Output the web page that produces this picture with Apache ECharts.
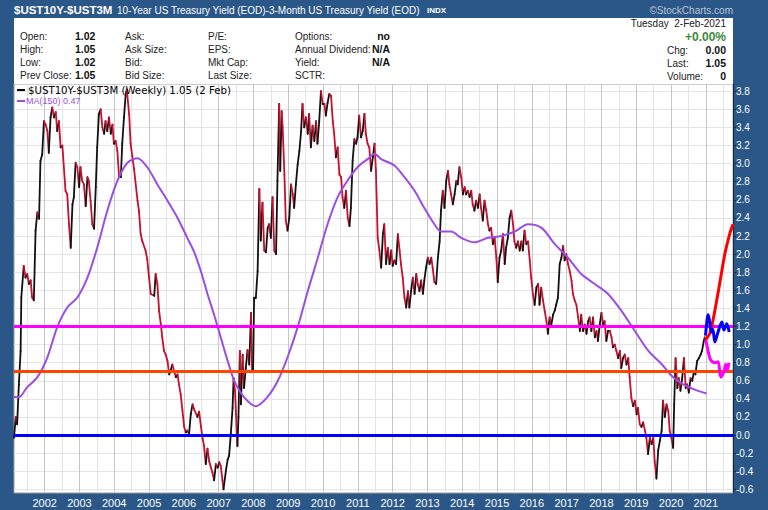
<!DOCTYPE html>
<html><head><meta charset="utf-8">
<script src="https://cdn.jsdelivr.net/npm/echarts@6/dist/echarts.min.js"></script>
<style>html,body{margin:0;padding:0;background:#2a5788;}#c{width:768px;height:510px;}</style>
</head><body><div id="c"></div>
<script>
// ---- data (decimal year, value) ----
const spreadWeekly = [
[2001.12,-0.03],[2001.17,0.20],[2001.21,0.12],[2001.26,0.56],[2001.31,0.93],[2001.33,1.52],[2001.40,1.87],[2001.45,1.74],[2001.50,1.78],[2001.55,1.67],[2001.60,1.71],[2001.64,1.52],[2001.69,1.49],[2001.74,2.26],[2001.79,2.46],[2001.84,2.39],[2001.88,3.03],[2001.93,3.10],[2001.98,3.47],[2002.03,3.43],[2002.08,3.36],[2002.12,3.12],[2002.17,3.51],[2002.22,3.62],[2002.27,3.51],[2002.32,3.57],[2002.36,3.36],[2002.41,3.47],[2002.46,3.18],[2002.51,3.20],[2002.60,2.70],[2002.65,2.66],[2002.70,2.33],[2002.75,2.07],[2002.80,2.55],[2002.84,2.63],[2002.89,3.01],[2002.94,2.96],[2002.99,2.74],[2003.03,2.96],[2003.08,2.81],[2003.13,2.77],[2003.18,2.53],[2003.23,2.85],[2003.27,2.81],[2003.32,2.59],[2003.37,2.33],[2003.42,2.28],[2003.47,2.74],[2003.51,3.18],[2003.56,3.55],[2003.61,3.60],[2003.66,3.40],[2003.71,3.33],[2003.75,3.47],[2003.80,3.36],[2003.85,3.51],[2003.90,3.33],[2003.95,3.43],[2003.99,3.22],[2004.04,3.25],[2004.09,3.14],[2004.14,2.85],[2004.19,2.85],[2004.23,3.22],[2004.28,3.51],[2004.33,3.77],[2004.36,3.82],[2004.43,3.54],[2004.47,3.22],[2004.52,3.08],[2004.57,2.94],[2004.67,2.59],[2004.71,2.48],[2004.76,2.22],[2004.81,2.14],[2004.90,2.04],[2004.95,1.94],[2005.00,1.74],[2005.05,1.56],[2005.15,1.54],[2005.19,1.78],[2005.24,1.67],[2005.29,1.37],[2005.34,1.22],[2005.38,1.08],[2005.43,0.93],[2005.48,0.89],[2005.53,0.82],[2005.58,0.67],[2005.62,0.71],[2005.67,0.78],[2005.72,0.71],[2005.77,0.64],[2005.82,0.67],[2005.86,0.56],[2005.91,0.45],[2005.96,0.27],[2006.01,0.09],[2006.06,0.03],[2006.10,0.05],[2006.15,0.01],[2006.20,0.23],[2006.25,0.34],[2006.30,0.28],
[2006.39,0.20],[2006.44,0.26],[2006.49,0.10],[2006.54,-0.04],[2006.58,-0.12],[2006.63,-0.32],[2006.68,-0.15],[2006.73,-0.29],[2006.78,-0.36],[2006.82,-0.41],[2006.87,-0.50],[2006.92,-0.32],[2006.97,-0.36],[2007.02,-0.30],[2007.06,-0.34],[2007.11,-0.50],[2007.14,-0.60],[2007.21,-0.39],[2007.26,-0.27],[2007.30,-0.23],[2007.35,0.01],[2007.40,0.30],[2007.43,0.63],[2007.47,0.49],[2007.50,0.23],[2007.52,0.01],[2007.54,-0.12],[2007.57,0.20],[2007.61,0.93],[2007.64,0.34],[2007.69,0.89],[2007.73,0.52],[2007.78,0.74],[2007.83,0.94],[2007.88,0.78],[2007.93,1.35],[2007.96,0.71],[2007.99,0.71],[2008.02,1.52],[2008.07,1.52],[2008.12,1.81],[2008.17,2.72],[2008.21,2.15],[2008.26,2.57],[2008.31,2.04],[2008.36,2.02],[2008.41,2.29],[2008.45,2.33],[2008.50,2.18],[2008.55,2.63],[2008.60,2.04],[2008.65,2.00],[2008.69,2.81],[2008.74,3.66],[2008.77,2.92],[2008.81,3.58],[2008.84,3.40],[2008.89,2.88],[2008.93,2.37],[2008.98,2.26],[2009.03,2.40],[2009.08,2.77],[2009.13,2.66],[2009.17,2.51],[2009.22,2.77],[2009.27,2.99],[2009.32,3.14],[2009.37,3.36],[2009.41,3.66],[2009.46,3.40],[2009.51,3.51],[2009.56,3.33],[2009.60,3.55],[2009.65,3.18],[2009.70,3.42],[2009.75,3.25],[2009.80,3.47],[2009.84,3.22],[2009.89,3.47],[2009.94,3.80],[2009.99,3.66],[2010.04,3.66],[2010.08,3.53],[2010.13,3.67],[2010.18,3.77],[2010.23,3.75],[2010.28,3.47],[2010.32,3.33],[2010.37,3.07],[2010.42,3.18],[2010.47,2.88],[2010.52,2.85],[2010.56,2.63],[2010.61,2.51],[2010.66,2.70],[2010.71,2.40],[2010.76,2.31],[2010.80,2.51],[2010.85,3.03],[2010.90,3.27],[2010.95,3.22],[2010.99,3.29],[2011.04,3.53],[2011.09,3.29],[2011.14,3.36],[2011.19,3.55],[2011.23,3.33],[2011.28,3.22],[2011.33,3.18],[2011.38,2.92],[2011.43,3.07],[2011.48,3.22],
[2011.52,2.92],[2011.57,2.18],[2011.62,2.04],[2011.67,1.85],[2011.72,2.22],[2011.76,2.33],[2011.81,1.89],[2011.86,2.07],[2011.91,1.89],[2011.96,2.04],[2012.00,1.87],[2012.05,1.93],[2012.10,1.89],[2012.15,2.22],[2012.20,2.04],[2012.24,1.89],[2012.29,1.74],[2012.34,1.52],[2012.39,1.41],[2012.44,1.59],[2012.48,1.41],[2012.53,1.59],[2012.58,1.74],[2012.63,1.56],[2012.68,1.78],[2012.72,1.67],[2012.77,1.59],[2012.82,1.71],[2012.87,1.56],[2012.91,1.71],[2012.96,1.85],[2013.01,1.96],[2013.06,1.89],[2013.11,1.96],[2013.15,1.85],[2013.20,1.69],[2013.25,1.67],[2013.30,1.96],[2013.35,2.14],[2013.39,2.48],[2013.44,2.70],[2013.49,2.51],[2013.54,2.81],[2013.59,2.92],[2013.63,2.77],[2013.68,2.66],[2013.73,2.55],[2013.78,2.66],[2013.83,2.81],[2013.87,2.77],[2013.92,2.96],[2013.97,2.85],[2014.02,2.66],[2014.07,2.74],[2014.11,2.66],[2014.16,2.70],[2014.21,2.63],[2014.26,2.70],[2014.30,2.55],[2014.35,2.48],[2014.40,2.59],[2014.45,2.51],[2014.50,2.66],[2014.54,2.51],[2014.59,2.37],[2014.64,2.59],[2014.69,2.48],[2014.74,2.33],[2014.78,2.26],[2014.83,2.29],[2014.88,2.11],[2014.93,2.18],[2014.98,1.96],[2015.02,1.69],[2015.07,1.96],[2015.12,2.04],[2015.17,2.22],[2015.22,1.89],[2015.26,2.07],[2015.31,2.18],[2015.36,2.40],[2015.41,2.48],[2015.46,2.33],[2015.50,2.14],[2015.55,2.07],[2015.60,2.14],[2015.65,2.04],[2015.70,2.14],[2015.74,2.04],[2015.79,2.26],[2015.84,2.11],[2015.89,2.14],[2015.94,1.93],[2015.98,1.74],[2016.03,1.56],[2016.08,1.44],[2016.13,1.63],[2016.18,1.67],[2016.22,1.44],[2016.27,1.63],[2016.32,1.49],[2016.37,1.37],[2016.42,1.26],[2016.46,1.12],[2016.51,1.30],[2016.56,1.22],[2016.61,1.33],[2016.66,1.38],
[2016.70,1.44],[2016.75,1.52],[2016.80,1.89],[2016.85,1.96],[2016.90,2.09],[2016.94,1.93],[2016.99,2.00],[2017.04,1.89],[2017.09,1.81],[2017.14,1.71],[2017.18,1.56],[2017.23,1.49],[2017.28,1.44],[2017.33,1.30],[2017.38,1.15],[2017.42,1.33],[2017.47,1.15],[2017.52,1.22],[2017.57,1.12],[2017.62,1.26],[2017.66,1.30],[2017.71,1.15],[2017.76,1.30],[2017.81,1.08],[2017.86,1.15],[2017.90,1.04],[2017.95,1.22],[2018.00,1.35],[2018.05,1.22],[2018.09,1.26],[2018.14,1.04],[2018.19,1.15],[2018.24,1.15],[2018.29,1.08],[2018.33,0.97],[2018.38,1.00],[2018.43,0.93],[2018.48,0.85],[2018.53,0.93],[2018.57,0.74],[2018.62,0.85],[2018.67,0.89],[2018.72,0.78],[2018.77,0.85],[2018.81,0.64],[2018.86,0.41],[2018.91,0.32],[2018.96,0.38],[2019.01,0.23],[2019.05,0.30],[2019.10,0.12],[2019.15,0.09],[2019.20,0.14],[2019.25,0.05],[2019.29,-0.03],[2019.34,-0.21],[2019.39,-0.03],[2019.44,-0.10],[2019.49,-0.03],[2019.53,-0.29],[2019.58,-0.48],[2019.63,-0.17],[2019.68,-0.06],[2019.73,0.05],[2019.77,0.38],[2019.82,0.20],[2019.87,0.34],[2019.92,0.27],[2019.96,0.05],[2020.01,-0.03],[2020.06,-0.14],[2020.09,0.34],[2020.13,0.85],[2020.18,0.52],[2020.22,0.63],[2020.27,0.49],[2020.32,0.63],[2020.37,0.85],[2020.42,0.52],[2020.46,0.56],[2020.51,0.47],[2020.56,0.63],[2020.61,0.60],[2020.66,0.71],[2020.70,0.67],[2020.75,0.82],[2020.80,0.85],[2020.85,0.89],[2020.89,0.93],[2020.94,1.04],[2020.97,1.08],[2021.00,1.05]
];
const ma150 = [
[2001.12,0.42],[2001.26,0.42],[2001.50,0.53],[2001.79,0.64],[2002.08,0.86],[2002.36,1.19],[2002.65,1.41],[2002.94,1.52],[2003.23,1.74],[2003.51,2.07],[2003.80,2.48],[2004.09,2.81],[2004.38,3.01],[2004.67,3.06],[2004.95,2.96],[2005.24,2.77],[2005.53,2.59],[2005.82,2.40],[2006.10,2.18],[2006.30,2.02],[2006.49,1.81],[2006.68,1.56],[2006.87,1.33],[2007.06,1.08],[2007.26,0.82],[2007.45,0.60],[2007.73,0.42],[2008.07,0.32],[2008.40,0.42],[2008.70,0.60],[2008.98,0.86],[2009.27,1.19],[2009.56,1.59],[2009.85,1.96],[2010.13,2.33],[2010.42,2.63],[2010.70,2.81],[2010.99,2.96],[2011.28,3.05],[2011.48,3.11],[2011.67,3.05],[2012.05,2.98],[2012.34,2.85],[2012.63,2.70],[2012.91,2.51],[2013.20,2.33],[2013.39,2.25],[2013.68,2.25],[2013.97,2.18],[2014.35,2.13],[2014.74,2.18],[2015.12,2.20],[2015.51,2.25],[2015.89,2.33],[2016.28,2.29],[2016.66,2.11],[2017.04,1.96],[2017.42,1.78],[2017.81,1.67],[2018.19,1.56],[2018.58,1.37],[2018.96,1.15],[2019.35,0.93],[2019.74,0.78],[2020.03,0.65],[2020.31,0.57],[2020.70,0.50],[2021.02,0.46]
];
const projectionUp = [[2021.00,1.06],[2021.12,1.13],[2021.26,1.38],[2021.40,1.68],[2021.55,2.01],[2021.69,2.23],[2021.78,2.33]];
const projectionFlat = [[2020.99,1.10],[2021.04,1.29],[2021.07,1.33],[2021.16,1.14],[2021.20,1.17],[2021.26,1.03],[2021.35,1.14],[2021.46,1.25],[2021.52,1.16],[2021.60,1.23],[2021.67,1.14]];
const projectionDown = [[2021.00,1.05],[2021.07,0.92],[2021.14,0.83],[2021.26,0.80],[2021.35,0.81],[2021.43,0.64],[2021.52,0.70],[2021.57,0.78],[2021.62,0.72],[2021.66,0.80]];
const levelLines = [1.2, 0.7, 0.0];
const levelColors = ['#ff00ff', '#ff4500', '#0000ff'];
const yearLabels = [2002,2003,2004,2005,2006,2007,2008,2009,2010,2011,2012,2013,2014,2015,2016,2017,2018,2019,2020,2021];
const halfYearTicks = [2001.5,2002,2002.5,2003,2003.5,2004,2004.5,2005,2005.5,2006,2006.5,2007,2007.5,2008,2008.5,2009,2009.5,2010,2010.5,2011,2011.5,2012,2012.5,2013,2013.5,2014,2014.5,2015,2015.5,2016,2016.5,2017,2017.5,2018,2018.5,2019,2019.5,2020,2020.5,2021,2021.5];
const yTicks = [-0.6,-0.4,-0.2,0,0.2,0.4,0.6,0.8,1.0,1.2,1.4,1.6,1.8,2.0,2.2,2.4,2.6,2.8,3.0,3.2,3.4,3.6,3.8];

// ---- header text ----
const infoCols = [
  {x:20, vx:75, align:'left', rows:[['Open:','1.02'],['High:','1.05'],['Low:','1.02'],['Prev Close:','1.05']]},
  {x:125, rows:[['Ask:'],['Ask Size:'],['Bid:'],['Bid Size:']]},
  {x:208, rows:[['P/E:'],['EPS:'],['Mkt Cap:'],['Last Size:']]},
  {x:295, vx:390, align:'right', rows:[['Options:','no'],['Annual Dividend:','N/A'],['Yield:','N/A'],['SCTR:']]}
];
const rowY = [36, 49, 62, 75];

const FONT = '"Liberation Sans", Arial, sans-serif';
const graphics = [];
graphics.push({type:'rect', shape:{x:14, y:18, width:719, height:66}, style:{fill:'#fff'}, z:0});
graphics.push({type:'text', style:{text:'$UST10Y-$UST3M', x:14, y:10, fill:'#fff', font:'bold 11.5px '+FONT, textVerticalAlign:'middle'}, z:5});
graphics.push({type:'text', style:{text:'10-Year US Treasury Yield (EOD)-3-Month US Treasury Yield (EOD)', x:117, y:10, fill:'#fff', font:'10px '+FONT, textVerticalAlign:'middle'}, z:5});
graphics.push({type:'text', style:{text:'INDX', x:427, y:10, fill:'#fff', font:'bold 8px '+FONT, textVerticalAlign:'middle'}, z:5});
graphics.push({type:'text', style:{text:'\u00A9StockCharts.com', x:733, y:10, fill:'#b8c6d6', font:'10px '+FONT, textAlign:'right', textVerticalAlign:'middle'}, z:5});
infoCols.forEach(c => c.rows.forEach((r, i) => {
  graphics.push({type:'text', style:{text:r[0], x:c.x, y:rowY[i], fill:'#222', font:'10px '+FONT, textVerticalAlign:'middle'}, z:5});
  if (r[1]) graphics.push({type:'text', style:{text:r[1], x:c.vx, y:rowY[i], fill:'#111', font:'bold 10.5px '+FONT, textAlign:c.align, textVerticalAlign:'middle'}, z:5});
}));
graphics.push({type:'text', style:{text:'Tuesday  2-Feb-2021', x:726, y:23, fill:'#222', font:'10px '+FONT, textAlign:'right', textVerticalAlign:'middle'}, z:5});
graphics.push({type:'text', style:{text:'+0.00%', x:726, y:37, fill:'#3a8a3a', font:'bold 12px '+FONT, textAlign:'right', textVerticalAlign:'middle'}, z:5});
[['Chg:','0.00',50],['Last:','1.05',63],['Volume:','0',76]].forEach(r => {
  graphics.push({type:'text', style:{text:r[0], x:667, y:r[2], fill:'#222', font:'10px '+FONT, textVerticalAlign:'middle'}, z:5});
  graphics.push({type:'text', style:{text:r[1], x:726, y:r[2], fill:'#111', font:'bold 10.5px '+FONT, textAlign:'right', textVerticalAlign:'middle'}, z:5});
});
// legend inside plot
graphics.push({type:'rect', shape:{x:17, y:89, width:8, height:2}, style:{fill:'#000'}, z:20});
graphics.push({type:'text', style:{text:'$UST10Y-$UST3M (Weekly) 1.05 (2 Feb)', x:28, y:90, fill:'#000', font:'10.2px "DejaVu Sans", Verdana, sans-serif', textVerticalAlign:'middle'}, z:20});
graphics.push({type:'rect', shape:{x:17, y:100, width:8, height:2}, style:{fill:'#9a4ee6'}, z:20});
graphics.push({type:'text', style:{text:'MA(150) 0.47', x:26, y:101, fill:'#9a4ee6', font:'9px "Liberation Sans", Arial, sans-serif', textVerticalAlign:'middle'}, z:20});

// segments coloured by direction
const segs = [];
for (let i = 1; i < spreadWeekly.length; i++) {
  const a = spreadWeekly[i-1], b = spreadWeekly[i];
  segs.push({coords:[a, b], lineStyle:{color: b[1] >= a[1] ? '#111111' : '#c80f2e'}});
}

const chart = echarts.init(document.getElementById('c'), null, {renderer:'svg'});
chart.setOption({
  backgroundColor:'#2a5788',
  animation:false,
  grid:{left:14, right:35, top:84, bottom:17, show:true, backgroundColor:'#ffffff', borderColor:'#9a9a9a', borderWidth:1},
  xAxis:{type:'value', min:2001.12, max:2021.78,
    axisLine:{show:false},
    axisTick:{show:false, customValues:halfYearTicks},
    axisLabel:{customValues:yearLabels, formatter:v => String(Math.round(v)), color:'#ffffff', fontSize:11, fontFamily:FONT, margin:4},
    splitLine:{show:true, lineStyle:{color:['#e4e4e4','#c6c6c6'], width:1}}},
  yAxis:{type:'value', position:'right', min:-0.64, max:3.88,
    axisLine:{show:true, lineStyle:{color:'#1a2a3a', width:1}},
    axisTick:{show:true, customValues:yTicks, length:3, lineStyle:{color:'#1a2a3a'}},
    axisLabel:{customValues:yTicks, formatter:v => v.toFixed(1), color:'#ffffff', fontSize:10, fontFamily:FONT, margin:3},
    splitLine:{show:true, lineStyle:{color:'#e4e4e4', width:1}}},
  graphic:graphics,
  series:[
    {name:'$UST10Y-$UST3M', type:'lines', coordinateSystem:'cartesian2d', polyline:false, data:segs,
      lineStyle:{width:1.8, cap:'round', join:'round', opacity:1}, silent:true, z:2},
    {name:'MA(150)', type:'line', data:ma150, showSymbol:false, smooth:0.3, lineStyle:{color:'#9a4ee6', width:2}, silent:true, z:3},
    {name:'levels', type:'line', data:[], z:4, markLine:{silent:true, symbol:['none','none'], label:{show:false},
      data: levelLines.map((v, i) => ({yAxis:v, lineStyle:{color:levelColors[i], width:3, type:'solid'}}))}},
    {name:'up', type:'line', data:projectionUp, showSymbol:false, smooth:0.3, lineStyle:{color:'#ff0000', width:3}, silent:true, z:5},
    {name:'flat', type:'line', data:projectionFlat, showSymbol:false, smooth:0.3, lineStyle:{color:'#0000ff', width:3}, silent:true, z:5},
    {name:'down', type:'line', data:projectionDown, showSymbol:false, smooth:0.3, lineStyle:{color:'#ff00ff', width:3}, silent:true, z:5}
  ]
});
</script></body></html>
